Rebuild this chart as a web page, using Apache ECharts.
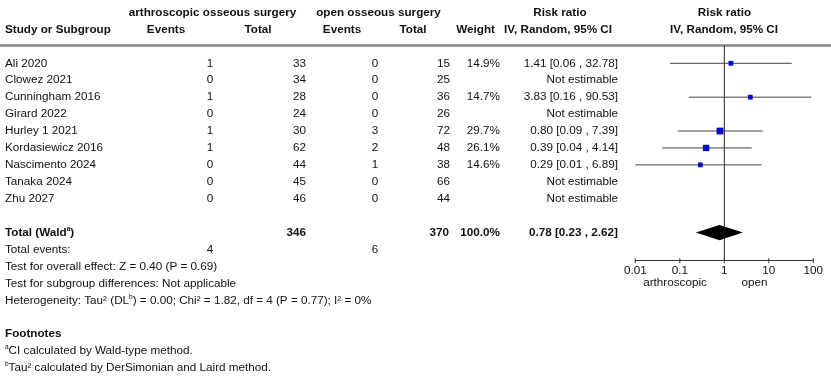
<!DOCTYPE html>
<html><head><meta charset="utf-8">
<script src="https://cdn.jsdelivr.net/npm/echarts@6/dist/echarts.min.js"></script>
<style>html,body{margin:0;padding:0;background:#fff}#c{width:831px;height:381px}</style>
</head><body><div id="c"></div>
<script>
// ---- data ----
const studies = ['Ali 2020','Clowez 2021','Cunningham 2016','Girard 2022','Hurley 1 2021','Kordasiewicz 2016','Nascimento 2024','Tanaka 2024','Zhu 2027'];
const arthroEvents = [1,0,1,0,1,1,0,0,0];
const arthroTotal  = [33,34,28,24,30,62,44,45,46];
const openEvents   = [0,0,0,0,3,2,1,0,0];
const openTotal    = [15,25,36,26,72,48,38,66,44];
const weights      = [14.9,null,14.7,null,29.7,26.1,14.6,null,null];
const rrEst        = [1.41,null,3.83,null,0.80,0.39,0.29,null,null];
const rrLow        = [0.06,null,0.16,null,0.09,0.04,0.01,null,null];
const rrHigh       = [32.78,null,90.53,null,7.39,4.14,6.89,null,null];
const totalArthro = 346, totalOpen = 370, totalWeight = 100.0;
const totalEst = 0.78, totalLow = 0.23, totalHigh = 2.62;
const eventsArthro = 4, eventsOpen = 6;
const tickValues = [0.01,0.1,1,10,100];
const tickLabels = ['0.01','0.1','1','10','100'];
const statLines = [
  'Test for overall effect: Z = 0.40 (P = 0.69)',
  'Test for subgroup differences: Not applicable'
];

// ---- layout ----
const FF = '"Liberation Sans", Arial, Helvetica, sans-serif';
const FS = 11.7;
const REG = FS + 'px ' + FF;
const BOLD = 'bold ' + FS + 'px ' + FF;
const INK = '#111';
const ROW0 = 63.3, ROWH = 16.93;
const GRID_TOP = 45.5, AXIS_Y = 260.7;
const yMin = (GRID_TOP - ROW0) / ROWH;
const yMax = (AXIS_Y - ROW0) / ROWH;
const TOTAL_ROW = 10;
const rowY = r => ROW0 + r * ROWH;

const fmt2 = v => v.toFixed(2);
const g = [];
function txt(s, x, y, align, font, extra) {
  const st = Object.assign({text: s, x: x, y: y, textAlign: align || 'left', textVerticalAlign: 'middle', font: font || REG, fill: INK}, extra || {});
  g.push({type: 'text', silent: true, style: st});
}
// header
txt('arthroscopic osseous surgery', 212.5, 13, 'center', BOLD);
txt('open osseous surgery', 378.5, 13, 'center', BOLD);
txt('Risk ratio', 560, 13, 'center', BOLD);
txt('Risk ratio', 724.5, 13, 'center', BOLD);
txt('Study or Subgroup', 5, 30, 'left', BOLD);
txt('Events', 166, 30, 'center', BOLD);
txt('Total', 258, 30, 'center', BOLD);
txt('Events', 342, 30, 'center', BOLD);
txt('Total', 413, 30, 'center', BOLD);
txt('Weight', 495, 30, 'right', BOLD);
txt('IV, Random, 95% CI', 558, 30, 'center', BOLD);
txt('IV, Random, 95% CI', 724, 30, 'center', BOLD);
g.push({type: 'line', silent: true, shape: {x1: 0, y1: GRID_TOP, x2: 831, y2: GRID_TOP}, style: {stroke: '#8a8a8a', lineWidth: 2.5}});

// study rows
studies.forEach((s, i) => {
  const y = rowY(i);
  txt(s, 5, y, 'left');
  txt(String(arthroEvents[i]), 210, y, 'center');
  txt(String(arthroTotal[i]), 306, y, 'right');
  txt(String(openEvents[i]), 375, y, 'center');
  txt(String(openTotal[i]), 450, y, 'right');
  if (weights[i] != null) {
    txt(weights[i].toFixed(1) + '%', 500, y, 'right');
    txt(fmt2(rrEst[i]) + ' [' + fmt2(rrLow[i]) + ' , ' + fmt2(rrHigh[i]) + ']', 618, y, 'right');
  } else {
    txt('Not estimable', 618, y, 'right');
  }
});
// total
const yT = rowY(TOTAL_ROW);
g.push({type: 'text', silent: true, style: {
  text: '{b|Total (Wald}{bs|a}{b|)}', x: 5, y: yT, textVerticalAlign: 'middle', textAlign: 'left',
  rich: {b: {font: BOLD, fill: INK, lineHeight: 14}, bs: {fontFamily: FF, fontSize: 6.5, fontWeight: 'bold', fill: INK, verticalAlign: 'top', lineHeight: 14}}
}});
txt(String(totalArthro), 306, yT, 'right', BOLD);
txt(String(totalOpen), 449, yT, 'right', BOLD);
txt(totalWeight.toFixed(1) + '%', 500, yT, 'right', BOLD);
txt(fmt2(totalEst) + ' [' + fmt2(totalLow) + ' , ' + fmt2(totalHigh) + ']', 618, yT, 'right', BOLD);
txt('Total events:', 5, rowY(11), 'left');
txt(String(eventsArthro), 210, rowY(11), 'center');
txt(String(eventsOpen), 375, rowY(11), 'center');
txt(statLines[0], 5, rowY(12), 'left');
txt(statLines[1], 5, rowY(13), 'left');
const supR = {r: {font: REG, fill: INK, lineHeight: 14}, s: {fontFamily: FF, fontSize: 6.5, fill: INK, verticalAlign: 'top', lineHeight: 14}};
g.push({type: 'text', silent: true, style: {
  text: '{r|Heterogeneity: Tau² (DL}{s|b}{r|) = 0.00; Chi² = 1.82, df = 4 (P = 0.77); I² = 0%}', x: 5, y: rowY(14), textVerticalAlign: 'middle', rich: supR}});
txt('Footnotes', 5, rowY(16), 'left', BOLD);
g.push({type: 'text', silent: true, style: {text: '{s|a}{r|CI calculated by Wald-type method.}', x: 5, y: rowY(17), textVerticalAlign: 'middle', rich: supR}});
g.push({type: 'text', silent: true, style: {text: '{s|b}{r|Tau² calculated by DerSimonian and Laird method.}', x: 5, y: rowY(18), textVerticalAlign: 'middle', rich: supR}});
// favours labels
txt('arthroscopic', 675, 283, 'center');
txt('open', 754.5, 283, 'center');

// ---- series data ----
const studyData = [];
studies.forEach((s, i) => { if (rrEst[i] != null) studyData.push([rrEst[i], i, rrLow[i], rrHigh[i], weights[i]]); });

const chart = echarts.init(document.getElementById('c'), null, {renderer: 'canvas'});
chart.setOption({
  animation: false,
  backgroundColor: '#fff',
  grid: {left: 635.3, width: 178, top: GRID_TOP, height: AXIS_Y - GRID_TOP},
  xAxis: {
    type: 'log', logBase: 10, min: 0.01, max: 100, position: 'bottom',
    splitLine: {show: false}, minorTick: {show: false},
    axisLine: {show: true, onZero: false, lineStyle: {color: '#333', width: 1}},
    axisTick: {show: false},
    axisLabel: {show: true, margin: 4, fontFamily: FF, fontSize: FS, color: INK,
      formatter: v => { const k = tickValues.findIndex(t => Math.abs(Math.log10(t) - Math.log10(v)) < 1e-6); return k >= 0 ? tickLabels[k] : ''; }}
  },
  yAxis: {type: 'value', inverse: true, min: yMin, max: yMax, show: false},
  graphic: g,
  series: [
    {
      type: 'line', silent: true, symbol: 'none', data: [[1, yMin], [1, yMax]],
      lineStyle: {color: '#222', width: 1}, z: 2
    },
    {
      // axis tick marks crossing the axis line
      type: 'custom', silent: true, data: tickValues.map(v => [v, yMax]), encode: {x: 0, y: 1}, clip: false, z: 4,
      renderItem: (params, api) => {
        const p = api.coord([api.value(0), api.value(1)]);
        return {type: 'line', shape: {x1: p[0], y1: p[1] - 2.5, x2: p[0], y2: p[1] + 2.5}, style: {stroke: '#333', lineWidth: 1}};
      }
    },
    {
      type: 'custom', silent: true, data: studyData, encode: {x: 0, y: 1}, clip: false, z: 3,
      renderItem: (params, api) => {
        const row = api.value(1);
        const p1 = api.coord([api.value(2), row]);
        const p2 = api.coord([api.value(3), row]);
        const c = api.coord([api.value(0), row]);
        const sz = 1.25 * Math.sqrt(api.value(4));
        return {type: 'group', children: [
          {type: 'line', shape: {x1: p1[0], y1: p1[1], x2: p2[0], y2: p2[1]}, style: {stroke: '#444', lineWidth: 1}},
          {type: 'rect', shape: {x: c[0] - sz / 2, y: c[1] - sz / 2, width: sz, height: sz}, style: {fill: '#0a0acc'}}
        ]};
      }
    },
    {
      type: 'custom', silent: true, data: [[totalEst, TOTAL_ROW, totalLow, totalHigh]], encode: {x: 0, y: 1}, z: 3,
      renderItem: (params, api) => {
        const row = api.value(1);
        const l = api.coord([api.value(2), row]);
        const r = api.coord([api.value(3), row]);
        const c = api.coord([api.value(0), row]);
        const h = 7.6;
        return {type: 'polygon', shape: {points: [[l[0], c[1]], [c[0], c[1] - h], [r[0], c[1]], [c[0], c[1] + h]]}, style: {fill: '#000'}};
      }
    }
  ]
});
</script>
</body></html>
